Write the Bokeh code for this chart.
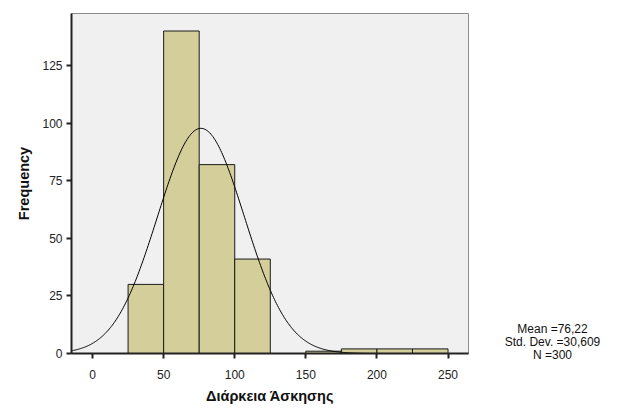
import numpy as np
from bokeh.plotting import figure
from bokeh.models import Range1d, FixedTicker
from bokeh.layouts import row
from bokeh.core.properties import value
from bokeh.embed import file_html
from bokeh.resources import INLINE

# Data
bin_left = [25, 50, 75, 100, 125, 150, 175, 200, 225]
bin_right = [50, 75, 100, 125, 150, 175, 200, 225, 250]
counts = [30, 140, 82, 41, 0, 1, 2, 2, 2]
x_ticks = [0, 50, 100, 150, 200, 250]
y_ticks = [0, 25, 50, 75, 100, 125]
mean_val = 76.22
std_val = 30.609
n_val = 300
bin_width = 25
stats_lines = ["Mean =76,22", "Std. Dev. =30,609", "N =300"]

FONT = "Liberation Sans"

p = figure(width=480, height=416, frame_width=397, frame_height=340,
           x_range=Range1d(-14.8, 264.4), y_range=Range1d(0, 147.6),
           output_backend="svg", toolbar_location=None,
           min_border_left=71, min_border_right=12, min_border_top=13, min_border_bottom=63)

p.background_fill_color = "#f0f0f0"
p.border_fill_color = "white"
p.outline_line_color = "#8c8c8c"
p.outline_line_width = 1
p.grid.visible = False

# bars
p.quad(left=bin_left, right=bin_right, bottom=0, top=counts,
       fill_color="#d3ce9a", line_color="#1a1a1a", line_width=1)

# normal curve from the chart's own stats
xs = np.linspace(-14.8, 264.4, 400)
ys = n_val * bin_width / (std_val * np.sqrt(2 * np.pi)) * np.exp(-0.5 * ((xs - mean_val) / std_val) ** 2)
p.line(xs, ys, line_color="black", line_width=1)

for ax in (p.xaxis[0], p.yaxis[0]):
    ax.axis_line_color = "#222222"
    ax.axis_line_width = 2
    ax.major_tick_line_color = "#222222"
    ax.major_tick_line_width = 2
    ax.major_tick_out = 5
    ax.major_tick_in = 0
    ax.minor_tick_line_color = None
    ax.major_label_text_font = FONT
    ax.major_label_text_font_size = "12px"
    ax.major_label_text_color = "#222222"
    ax.axis_label_text_font = FONT
    ax.axis_label_text_font_size = "14.5px"
    ax.axis_label_text_font_style = "bold"
    ax.axis_label_text_color = "#111111"

p.xaxis.ticker = FixedTicker(ticks=x_ticks)
p.yaxis.ticker = FixedTicker(ticks=y_ticks)
p.xaxis.axis_label = "Διάρκεια Άσκησης"
p.yaxis.axis_label = "Frequency"
p.xaxis.major_label_standoff = 11
p.xaxis.axis_label_standoff = 6
p.yaxis.major_label_standoff = 4
p.yaxis.axis_label_standoff = 7

# side panel with summary statistics
s = figure(frame_width=144, frame_height=416, x_range=Range1d(0, 144), y_range=Range1d(0, 416),
           output_backend="svg", toolbar_location=None,
           x_axis_location=None, y_axis_location=None, min_border=0)
s.grid.visible = False
s.outline_line_color = None
s.background_fill_color = "white"
s.border_fill_color = "white"
s.text(x=[72, 72, 72], y=[101, 88, 75], text=stats_lines, text_align="center",
       text_baseline="middle", text_font=value(FONT), text_font_size="12px",
       text_color="#111111")

layout = row(p, s, spacing=0)
open("out.html", "w").write(file_html(layout, INLINE))
